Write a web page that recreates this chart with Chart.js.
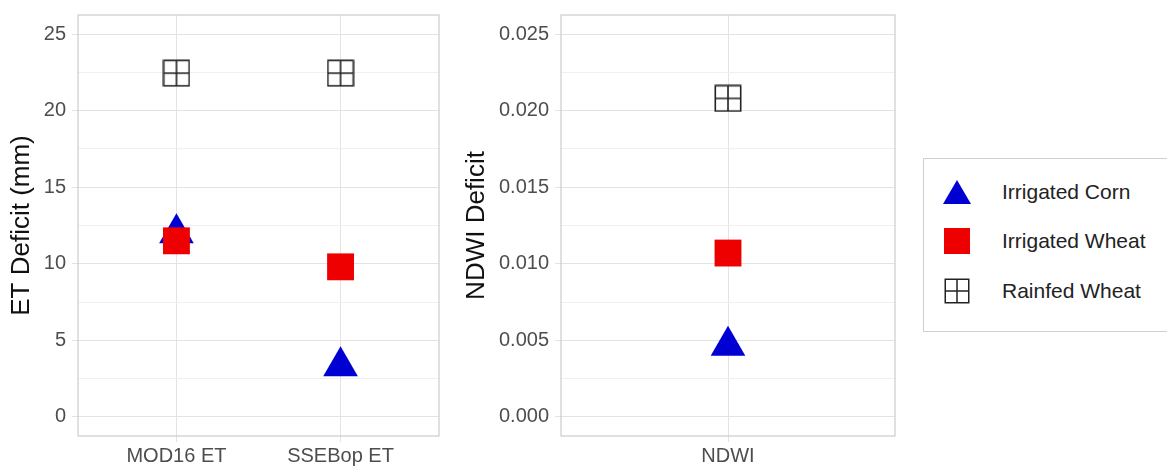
<!DOCTYPE html>
<html>
<head>
<meta charset="utf-8">
<script src="https://cdn.jsdelivr.net/npm/chart.js@4"></script>
<style>
  html, body { margin: 0; padding: 0; background: #fff; }
  body { width: 1167px; height: 468px; position: relative; overflow: hidden; font-family: "Liberation Sans", Arial, sans-serif; }
  .panel { position: absolute; top: 0; height: 468px; }
  #legend { position: absolute; left: 923px; top: 158px; width: 260px; height: 174px; border: 1px solid #cfcfcf; box-sizing: border-box; }
  .item { position: absolute; left: 0; height: 30px; }
  .item canvas { position: absolute; left: 18px; top: 0; }
  .item span { position: absolute; left: 78px; top: 2px; font-size: 21px; color: #222; white-space: nowrap; line-height: 26px; }
</style>
</head>
<body>
<div class="panel" style="left:0;width:450px"><canvas id="c1" width="450" height="468"></canvas></div>
<div class="panel" style="left:450px;width:450px"><canvas id="c2" width="450" height="468"></canvas></div>
<div id="legend"></div>
<script>
// ---- data ----
const seriesNames = ["Irrigated Corn", "Irrigated Wheat", "Rainfed Wheat"];
const etCategories = ["MOD16 ET", "SSEBop ET"];
const etCorn = [12.0, 3.3];
const etIrrWheat = [11.5, 9.8];
const etRainWheat = [22.45, 22.45];
const ndwiCategories = ["NDWI"];
const ndwiCorn = [0.00465];
const ndwiIrrWheat = [0.0107];
const ndwiRainWheat = [0.0208];
const etMajorTicks = [0, 5, 10, 15, 20, 25];
const etMinorTicks = [2.5, 7.5, 12.5, 17.5, 22.5];
const ndwiMajorTicks = [0, 0.005, 0.010, 0.015, 0.020, 0.025];
const ndwiMajorLabels = ["0.000", "0.005", "0.010", "0.015", "0.020", "0.025"];
const ndwiMinorTicks = [0.0025, 0.0075, 0.0125, 0.0175, 0.0225];

// ---- styles ----
const colCorn = "#0000d2";
const colWheat = "#ee0000";
const colRain = "#222222";
const majorGrid = "#e3e3e3";
const minorGrid = "#f0f0f0";
const borderCol = "#cccccc";
const tickFont = { family: "Liberation Sans, Arial, sans-serif", size: 20 };
const titleFont = { family: "Liberation Sans, Arial, sans-serif", size: 26 };

function makeGridSquare(size, lw) {
  const c = document.createElement("canvas");
  c.width = size; c.height = size;
  const g = c.getContext("2d");
  g.strokeStyle = colRain; g.lineWidth = lw;
  const o = lw / 2 + 0.5;
  g.strokeRect(o, o, size - 2 * o, size - 2 * o);
  g.beginPath();
  g.moveTo(size / 2, o); g.lineTo(size / 2, size - o);
  g.moveTo(o, size / 2); g.lineTo(size - o, size / 2);
  g.stroke();
  return c;
}
const rainIcon = makeGridSquare(28, 1.6);

const borderPlugin = {
  id: "panelBorder",
  afterDraw(chart) {
    const a = chart.chartArea, ctx = chart.ctx;
    ctx.save();
    ctx.strokeStyle = borderCol; ctx.lineWidth = 1.2;
    ctx.strokeRect(a.left, a.top, a.right - a.left, a.bottom - a.top);
    ctx.restore();
  }
};

function zeroPad(s) { s.paddingTop = 0; s.paddingBottom = 0; s.paddingLeft = 0; s.paddingRight = 0; }
function toPoints(vals) { return vals.map((v, i) => ({ x: i + 1, y: v })); }

function makeChart(id, cats, corn, wheat, rain, major, minor, majorLabels, ymin, ymax, yTitle, yAxisWidth, titlePad, padRight) {
  const xTickVals = cats.map((c, i) => i + 1);
  return new Chart(document.getElementById(id), {
    type: "scatter",
    data: {
      datasets: [
        { label: seriesNames[0], data: toPoints(corn), pointStyle: "triangle", pointRadius: 20, pointHoverRadius: 20, backgroundColor: colCorn, borderColor: colCorn, borderWidth: 0, order: 2 },
        { label: seriesNames[1], data: toPoints(wheat), pointStyle: "rect", pointRadius: 19, pointHoverRadius: 19, backgroundColor: colWheat, borderColor: colWheat, borderWidth: 0, order: 1 },
        { label: seriesNames[2], data: toPoints(rain), pointStyle: rainIcon, pointRadius: 14, order: 0 }
      ]
    },
    options: {
      responsive: false,
      animation: false,
      events: [],
      layout: { autoPadding: false, padding: { top: 15, right: padRight, bottom: 0, left: 0 } },
      plugins: { legend: { display: false }, tooltip: { enabled: false } },
      scales: {
        x: {
          type: "linear",
          min: 0.4, max: cats.length + 0.6,
          afterBuildTicks: s => { s.ticks = xTickVals.map(v => ({ value: v })); },
          afterFit: s => { s.height = 32; zeroPad(s); },
          ticks: { callback: v => cats[Math.round(v) - 1], color: "#4d4d4d", font: tickFont, padding: 2, maxRotation: 0, autoSkip: false },
          grid: { color: majorGrid, lineWidth: 1, tickLength: 6, tickColor: majorGrid },
          border: { display: false }
        },
        y: {
          type: "linear",
          min: ymin, max: ymax,
          afterBuildTicks: s => { s.ticks = major.concat(minor).sort((a, b) => a - b).map(v => ({ value: v })); },
          afterFit: s => { s.width = yAxisWidth; zeroPad(s); },
          ticks: {
            autoSkip: false,
            color: "#4d4d4d", font: tickFont, padding: 6,
            callback: v => { const k = major.findIndex(m => Math.abs(m - v) < 1e-9); return k >= 0 ? majorLabels[k] : ""; }
          },
          grid: {
            lineWidth: 1, tickLength: 6,
            color: c => (major.some(m => Math.abs(m - c.tick.value) < 1e-9) ? majorGrid : minorGrid),
            tickColor: c => (major.some(m => Math.abs(m - c.tick.value) < 1e-9) ? majorGrid : "rgba(0,0,0,0)")
          },
          border: { display: false },
          title: { display: true, text: yTitle, color: "#111", font: titleFont, padding: { top: titlePad, bottom: 0 } }
        }
      }
    },
    plugins: [borderPlugin]
  });
}

makeChart("c1", etCategories, etCorn, etIrrWheat, etRainWheat, etMajorTicks, etMinorTicks, etMajorTicks.map(String), -1.25, 26.25, "ET Deficit (mm)", 78, 6.5, 11);
makeChart("c2", ndwiCategories, ndwiCorn, ndwiIrrWheat, ndwiRainWheat, ndwiMajorTicks, ndwiMinorTicks, ndwiMajorLabels, -0.00125, 0.02625, "NDWI Deficit", 111, 11, 5);

// ---- legend ----
const legend = document.getElementById("legend");
const itemTops = [18, 67, 117];
seriesNames.forEach((name, i) => {
  const d = document.createElement("div");
  d.className = "item"; d.style.top = itemTops[i] + "px";
  const c = document.createElement("canvas");
  c.width = 30; c.height = 30;
  const g = c.getContext("2d");
  if (i === 0) {
    g.fillStyle = colCorn; g.beginPath();
    g.moveTo(15, 3); g.lineTo(29, 27); g.lineTo(1, 27); g.closePath(); g.fill();
  } else if (i === 1) {
    g.fillStyle = colWheat; g.fillRect(2, 2, 26, 26);
  } else {
    g.drawImage(makeGridSquare(26, 1.5), 2, 2);
  }
  const s = document.createElement("span"); s.textContent = name;
  d.appendChild(c); d.appendChild(s);
  legend.appendChild(d);
});
</script>
</body>
</html>
